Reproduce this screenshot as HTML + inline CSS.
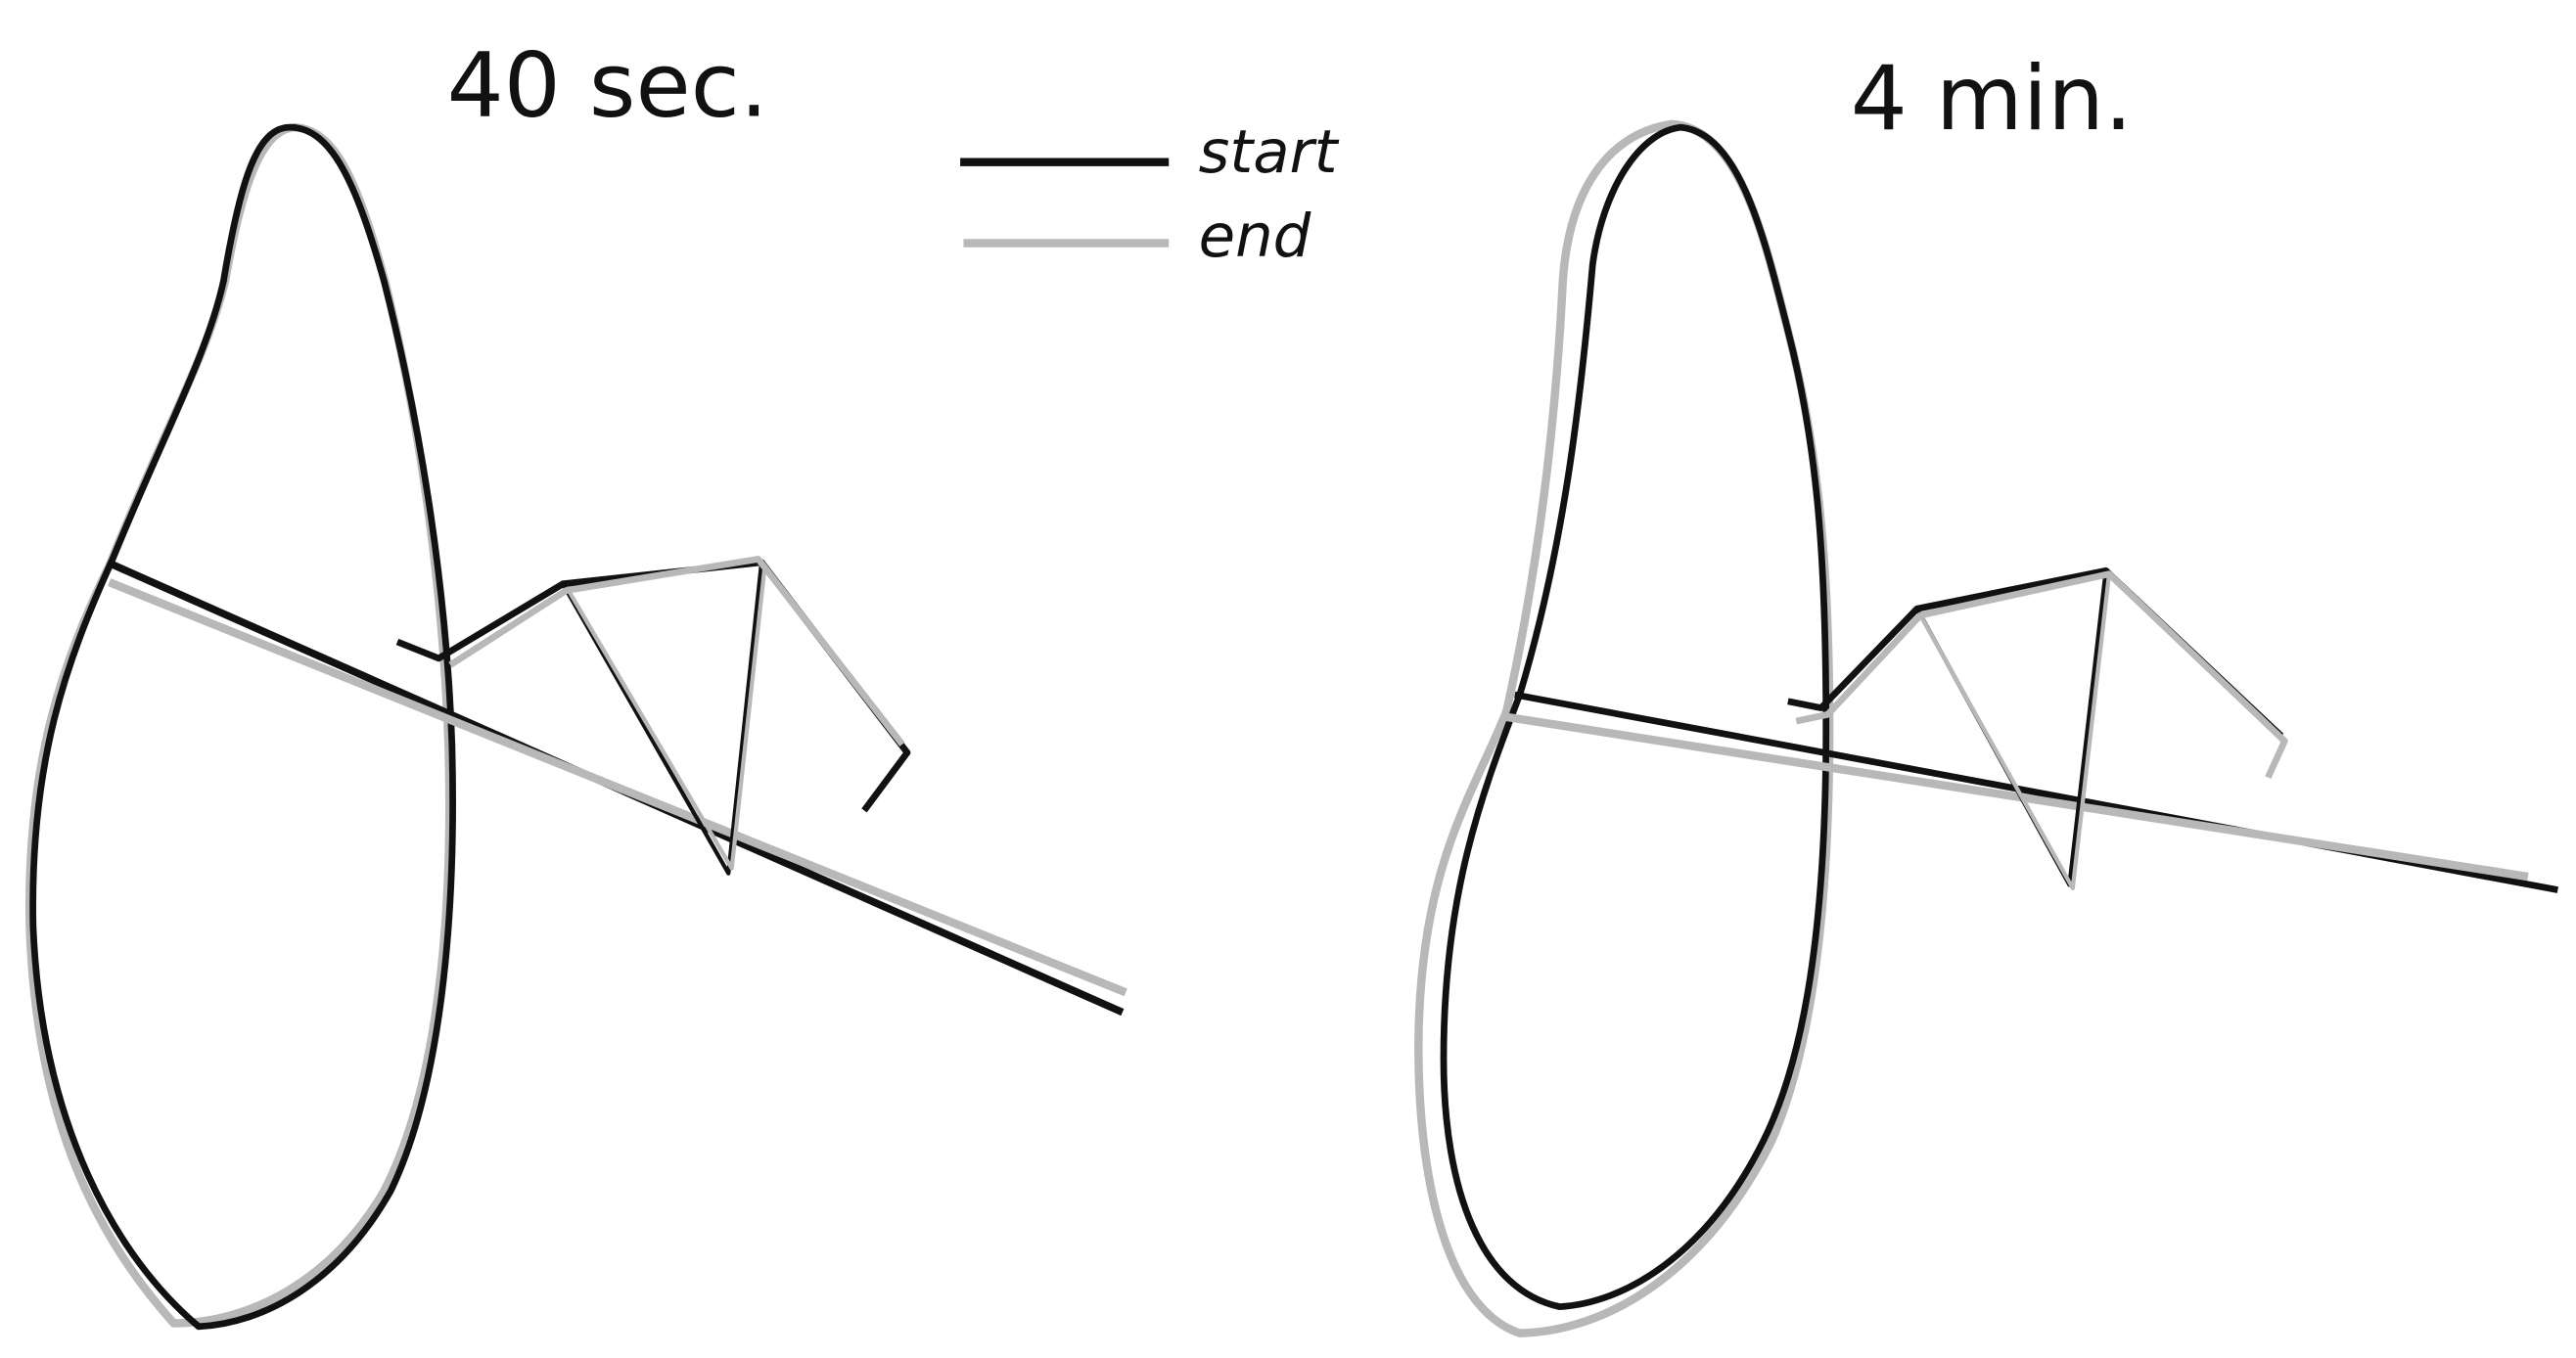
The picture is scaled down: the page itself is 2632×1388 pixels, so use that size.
<!DOCTYPE html>
<html><head><meta charset="utf-8"><style>
html,body{margin:0;padding:0;background:#fff;}
svg{display:block;}
text{font-family:"DejaVu Sans","Liberation Sans",sans-serif;}
</style></head><body>
<svg width="2632" height="1388" viewBox="0 0 1556 821" preserveAspectRatio="none" xmlns="http://www.w3.org/2000/svg">
<g fill="none" stroke-linejoin="round" stroke-linecap="butt">
<path d="M178,77 C203,78 217,112 233,172 C255,262 268,362 271,452 C274,562 263,660 232,720 C200,775 150,800 105,800 C60,750 22,680 18,560 C16,460 38,400 66,342 C98,262 124,218 136,170 C146,112 158,78 178,77 Z" stroke="#b8b8b8" stroke-width="5"/>
<path d="M175,77 C200,77 215,110 232,170 C255,260 270,360 273,450 C276,560 265,660 236,720 C205,775 160,800 120,802 C70,760 25,680 20,560 C18,460 40,400 68,338 C100,260 125,215 135,170 C145,110 155,77 175,77 Z" stroke="#111" stroke-width="4"/>
<path d="M65,340 L678,612" stroke="#111" stroke-width="4.5"/>
<path d="M66,352 L680,600" stroke="#b8b8b8" stroke-width="5"/>
<path d="M240,388 L265,398 L340,353 L460,340 L548,455 L522,490" stroke="#111" stroke-width="4"/>
<path d="M340,353 L440,528 L460,340" stroke="#111" stroke-width="2.5"/>
<path d="M272,402 L342,357 L458,338 L545,450" stroke="#b8b8b8" stroke-width="4"/>
<path d="M344,358 L442,525 L462,342" stroke="#b8b8b8" stroke-width="2.5"/>
<path d="M1010,75 C1050,78 1065,140 1080,200 C1098,270 1105,340 1105,440 C1105,560 1092,640 1070,690 C1030,770 970,805 918,806 C870,790 855,700 857,620 C860,520 890,480 910,430 C930,340 940,250 944,170 C948,110 975,80 1010,75 Z" stroke="#b8b8b8" stroke-width="5"/>
<path d="M1015,77 C1050,80 1065,140 1080,200 C1098,270 1103,340 1103,440 C1103,560 1090,640 1065,690 C1030,760 980,788 942,790 C895,780 872,720 872,640 C872,540 895,480 918,420 C945,330 955,240 962,160 C968,115 990,80 1015,77 Z" stroke="#111" stroke-width="4"/>
<path d="M915,420 L1545,538" stroke="#111" stroke-width="4"/>
<path d="M907,433 L1527,530" stroke="#b8b8b8" stroke-width="5"/>
<path d="M1080,424 L1100,428 L1158,368 L1272,345 L1378,445" stroke="#111" stroke-width="4"/>
<path d="M1158,368 L1250,535 L1272,345" stroke="#111" stroke-width="2.5"/>
<path d="M1085,436 L1104,432 L1160,372 L1274,347 L1380,448 L1370,470" stroke="#b8b8b8" stroke-width="4"/>
<path d="M1160,372 L1252,537 L1274,347" stroke="#b8b8b8" stroke-width="2.5"/>
<path d="M580,98 L706,98" stroke="#111" stroke-width="5"/>
<path d="M582,147 L706,147" stroke="#b8b8b8" stroke-width="5"/>
</g>
<text x="367" y="70" font-size="54" text-anchor="middle" fill="#111">40 sec.</text>
<text x="1203" y="78" font-size="54" text-anchor="middle" fill="#111">4 min.</text>
<text x="724" y="104" font-size="36" font-style="italic" fill="#111">start</text>
<text x="724" y="155" font-size="36" font-style="italic" fill="#111">end</text>
</svg>
</body></html>
